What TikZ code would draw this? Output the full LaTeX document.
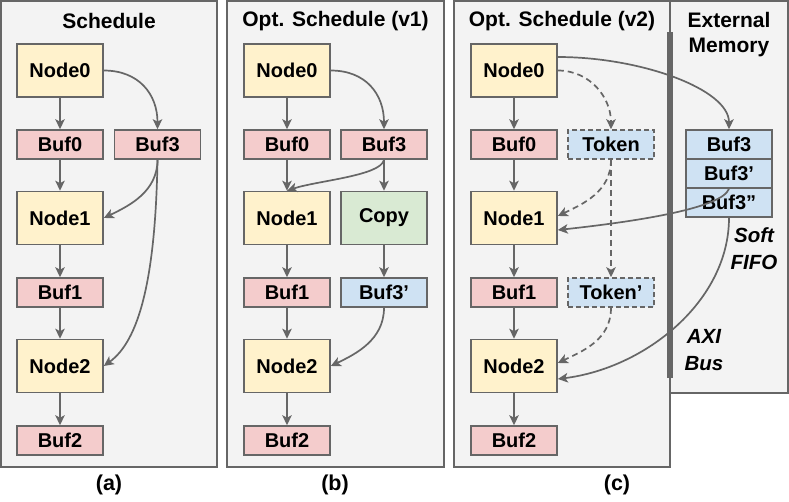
\documentclass[tikz,border=0pt]{standalone}
\usepackage{fontspec}
\setmainfont{Liberation Sans}
\usetikzlibrary{arrows.meta,calc}
\definecolor{gc}{HTML}{666666}
\definecolor{bgc}{HTML}{F3F3F3}
\definecolor{yel}{HTML}{FFF2CC}
\definecolor{pnk}{HTML}{F4CCCC}
\definecolor{grn}{HTML}{D9EAD3}
\definecolor{blu}{HTML}{CFE2F3}
\begin{document}
\begin{tikzpicture}[x=1pt,y=-1pt,
  every node/.style={font=\fontsize{20}{24}\selectfont\bfseries, text=black},
  blk/.style={draw=gc, line width=1.6pt, minimum width=86pt, inner sep=0pt},
  nodebox/.style={blk, fill=yel, minimum height=53pt},
  bufbox/.style={blk, fill=pnk, minimum height=29pt},
  copybox/.style={blk, fill=grn, minimum height=53pt},
  bluebox/.style={blk, fill=blu, minimum height=29pt},
  tokbox/.style={blk, fill=blu, minimum height=29pt, dash pattern=on 5pt off 3pt},
  arr/.style={draw=gc, line width=1.7pt, -{Stealth[length=10pt,width=9.5pt,inset=2.5pt]}},
  dsh/.style={arr, dash pattern=on 6pt off 4pt},
  panel/.style={draw=gc, line width=1.6pt, fill=bgc},
  ttl/.style={inner sep=0pt, align=center, font=\fontsize{21}{25}\selectfont\bfseries},
  caplbl/.style={inner sep=0pt, font=\fontsize{21.5}{25}\selectfont\bfseries},
  ital/.style={inner sep=0pt, align=center, font=\fontsize{20.5}{27}\selectfont\bfseries\itshape}
]
\useasboundingbox (0,0) rectangle (789,501);
\fill[white] (0,0) rectangle (789,501);

% panels
\path[panel] (1,1) rectangle (217,467);
\path[panel] (227,1) rectangle (444,467);
\path[panel] (670,1) rectangle (788,393);
\path[panel] (454,1) rectangle (670,467);
\fill[gc] (667,32) rectangle (673,378);

% titles
\node[ttl] (ta) at (109,21) {Schedule};
\node[ttl] (tb) at (335.5,21) {Opt. Schedule (v1)};
\node[ttl] (tc) at (562,21) {Opt. Schedule (v2)};
\node[ttl, font=\fontsize{21}{25.5}\selectfont\bfseries] (te) at (729,34.5) {External\\Memory};
\node[caplbl] (la) at (109,485) {(a)};
\node[caplbl] (lb) at (335,485) {(b)};
\node[caplbl] (lc) at (617,485) {(c)};
\node[ital] (sf) at (754,249) {Soft\\FIFO};
\node[ital] (ax) at (704,350.5) {AXI\\Bus};

% panel a
\node[nodebox] (n0a) at (60,70.5) {Node0};
\node[bufbox]  (b0a) at (60,144.5) {Buf0};
\node[bufbox]  (b3a) at (157.5,144.5) {Buf3};
\node[nodebox] (n1a) at (60,218) {Node1};
\node[bufbox]  (b1a) at (60,292.5) {Buf1};
\node[nodebox] (n2a) at (60,366) {Node2};
\node[bufbox]  (b2a) at (60,440.5) {Buf2};

% panel b
\node[nodebox] (n0b) at (287,70.5) {Node0};
\node[bufbox]  (b0b) at (287,144.5) {Buf0};
\node[bufbox]  (b3b) at (384,144.5) {Buf3};
\node[nodebox] (n1b) at (287,218) {Node1};
\node[copybox] (cpb) at (384,218) {Copy};
\node[bufbox]  (b1b) at (287,292.5) {Buf1};
\node[bluebox] (b3pb) at (384,292.5) {Buf3’};
\node[nodebox] (n2b) at (287,366) {Node2};
\node[bufbox]  (b2b) at (287,440.5) {Buf2};

% panel c
\node[nodebox] (n0c) at (514,70.5) {Node0};
\node[bufbox]  (b0c) at (514,144.5) {Buf0};
\node[tokbox]  (tkc) at (611,144.5) {Token};
\node[nodebox] (n1c) at (514,218) {Node1};
\node[bufbox]  (b1c) at (514,292.5) {Buf1};
\node[tokbox]  (tkpc) at (611,292.5) {Token’};
\node[nodebox] (n2c) at (514,366) {Node2};
\node[bufbox]  (b2c) at (514,440.5) {Buf2};
\node[bluebox] (b3e) at (729,144.5) {Buf3};
\node[bluebox] (b3pe) at (729,173.5) {Buf3’};
\node[bluebox] (b3ppe) at (729,202.5) {Buf3”};

% arrows a
\draw[arr] (n0a) -- (b0a);
\draw[arr] (b0a) -- (n1a);
\draw[arr] (n1a) -- (b1a);
\draw[arr] (b1a) -- (n2a);
\draw[arr] (n2a) -- (b2a);
\draw[arr] (n0a.east) .. controls +(35,0) and +(0,-35) .. (b3a.north);
\draw[arr] (b3a.south) .. controls +(0,32) and +(25,-12) .. (n1a.east);
\draw[arr] (b3a.south) .. controls +(-2,120) and +(35,-25) .. (n2a.east);

% arrows b
\draw[arr] (n0b) -- (b0b);
\draw[arr] (b0b) -- (n1b);
\draw[arr] (n1b) -- (b1b);
\draw[arr] (b1b) -- (n2b);
\draw[arr] (n2b) -- (b2b);
\draw[arr] (b3b) -- (cpb);
\draw[arr] (cpb) -- (b3pb);
\draw[arr] (n0b.east) .. controls +(35,0) and +(0,-35) .. (b3b.north);
\draw[arr] (b3b.south) .. controls +(-3,16) and +(30,-10) .. (n1b.north);
\draw[arr] (b3pb.south) .. controls +(0,32) and +(25,-12) .. (n2b.east);

% arrows c
\draw[arr] (n0c) -- (b0c);
\draw[arr] (b0c) -- (n1c);
\draw[arr] (n1c) -- (b1c);
\draw[arr] (b1c) -- (n2c);
\draw[arr] (n2c) -- (b2c);
\draw[dsh] (n0c.east) .. controls +(32,0) and +(0,-32) .. (tkc.north);
\draw[dsh] (tkc.south) .. controls +(0,32) and +(25,-12) .. ($(n1c.east)+(0,-2)$);
\draw[dsh] (tkc) -- (tkpc);
\draw[dsh] (tkpc.south) .. controls +(0,32) and +(25,-12) .. ($(n2c.east)+(0,-3)$);
\draw[arr] ($(n0c.east)+(0,-13.5)$) .. controls +(83,0) and +(0,-40) .. (b3e.north);
\draw[arr] (b3pe.south) .. controls +(-7,19) and +(83,-9) .. ($(n1c.east)+(0,12)$);
\draw[arr] (b3ppe.south) .. controls +(0,83) and +(88,-11) .. ($(n2c.east)+(0,13)$);
\end{tikzpicture}
\end{document}
